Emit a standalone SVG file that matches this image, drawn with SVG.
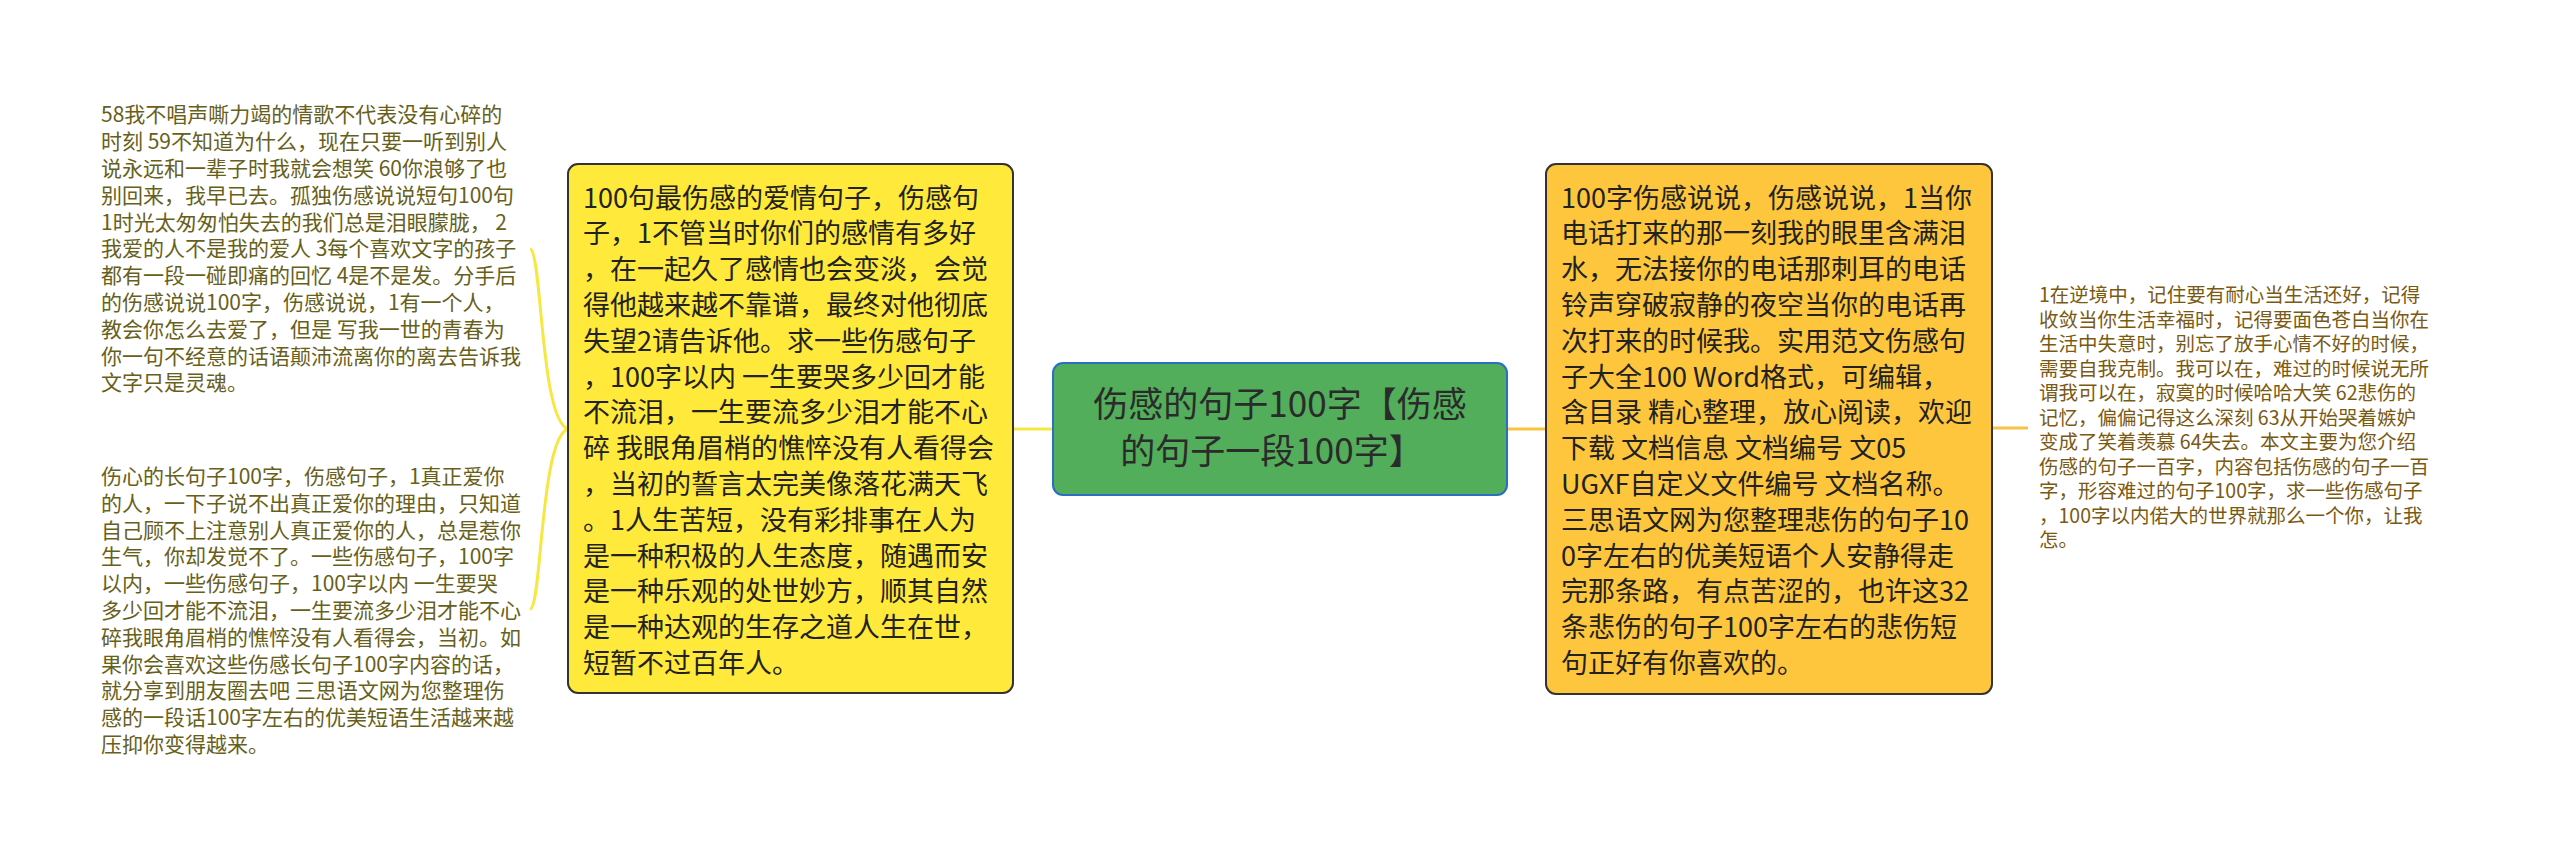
<svg xmlns="http://www.w3.org/2000/svg" width="2560" height="858" viewBox="0 0 2560 858">
<style>
.t{font-family:"Noto Sans CJK SC","Noto Sans",sans-serif}
.box{font-size:27px;fill:#222}
.side{font-size:21px;fill:#67601a}
.sider{font-size:19.5px;fill:#7a5a12}
.ctr{font-size:35px;fill:#2b2b2b}
.ly{fill:none;stroke:#f6e742;stroke-width:3}
.lo{fill:none;stroke:#f7c444;stroke-width:3}
</style>
<rect width="2560" height="858" fill="#ffffff"/>
<g id="connectors">
<path class="ly" d="M1013,429 L1053,429"/>
<path class="lo" d="M1507,429 L1546,429"/>
<path class="lo" d="M1992,428 L2028,428"/>
<path class="ly" d="M568,429 C540,420 542,249 530,249"/>
<path class="ly" d="M568,429 C540,438 542,609 530,609"/>
</g>
<g id="center">
<rect x="1053" y="363" width="454" height="132" rx="10" fill="#52ae5a" stroke="#2a6fc4" stroke-width="2"/>
<text class="t ctr" text-anchor="middle"><tspan x="1280" y="417">伤感的句子100字【伤感</tspan><tspan x="1272" y="464">的句子一段100字】</tspan></text>
</g>
<g id="left-box">
<rect x="568" y="164" width="445" height="529" rx="10" fill="#ffe93a" stroke="#333" stroke-width="2"/>
<text class="t box">
<tspan x="583" y="207.5">100句最伤感的爱情句子，伤感句</tspan>
<tspan x="583" dy="35.8">子，1不管当时你们的感情有多好</tspan>
<tspan x="583" dy="35.8">，在一起久了感情也会变淡，会觉</tspan>
<tspan x="583" dy="35.8">得他越来越不靠谱，最终对他彻底</tspan>
<tspan x="583" dy="35.8">失望2请告诉他。求一些伤感句子</tspan>
<tspan x="583" dy="35.8">，100字以内 一生要哭多少回才能</tspan>
<tspan x="583" dy="35.8">不流泪，一生要流多少泪才能不心</tspan>
<tspan x="583" dy="35.8">碎 我眼角眉梢的憔悴没有人看得会</tspan>
<tspan x="583" dy="35.8">，当初的誓言太完美像落花满天飞</tspan>
<tspan x="583" dy="35.8">。1人生苦短，没有彩排事在人为</tspan>
<tspan x="583" dy="35.8">是一种积极的人生态度，随遇而安</tspan>
<tspan x="583" dy="35.8">是一种乐观的处世妙方，顺其自然</tspan>
<tspan x="583" dy="35.8">是一种达观的生存之道人生在世，</tspan>
<tspan x="583" dy="35.8">短暂不过百年人。</tspan>
</text>
</g>
<g id="right-box">
<rect x="1546" y="164" width="446" height="530" rx="10" fill="#fdc63c" stroke="#333" stroke-width="2"/>
<text class="t box">
<tspan x="1561" y="207.5">100字伤感说说，伤感说说，1当你</tspan>
<tspan x="1561" dy="35.8">电话打来的那一刻我的眼里含满泪</tspan>
<tspan x="1561" dy="35.8">水，无法接你的电话那刺耳的电话</tspan>
<tspan x="1561" dy="35.8">铃声穿破寂静的夜空当你的电话再</tspan>
<tspan x="1561" dy="35.8">次打来的时候我。实用范文伤感句</tspan>
<tspan x="1561" dy="35.8">子大全100 Word格式，可编辑，</tspan>
<tspan x="1561" dy="35.8">含目录 精心整理，放心阅读，欢迎</tspan>
<tspan x="1561" dy="35.8">下载 文档信息 文档编号 文05</tspan>
<tspan x="1561" dy="35.8">UGXF自定义文件编号 文档名称。</tspan>
<tspan x="1561" dy="35.8">三思语文网为您整理悲伤的句子10</tspan>
<tspan x="1561" dy="35.8">0字左右的优美短语个人安静得走</tspan>
<tspan x="1561" dy="35.8">完那条路，有点苦涩的，也许这32</tspan>
<tspan x="1561" dy="35.8">条悲伤的句子100字左右的悲伤短</tspan>
<tspan x="1561" dy="35.8">句正好有你喜欢的。</tspan>
</text>
</g>
<g id="left-top">
<text class="t side">
<tspan x="101" y="122.4">58我不唱声嘶力竭的情歌不代表没有心碎的</tspan>
<tspan x="101" dy="26.8">时刻 59不知道为什么，现在只要一听到别人</tspan>
<tspan x="101" dy="26.8">说永远和一辈子时我就会想笑 60你浪够了也</tspan>
<tspan x="101" dy="26.8">别回来，我早已去。孤独伤感说说短句100句</tspan>
<tspan x="101" dy="26.8">1时光太匆匆怕失去的我们总是泪眼朦胧， 2</tspan>
<tspan x="101" dy="26.8">我爱的人不是我的爱人 3每个喜欢文字的孩子</tspan>
<tspan x="101" dy="26.8">都有一段一碰即痛的回忆 4是不是发。分手后</tspan>
<tspan x="101" dy="26.8">的伤感说说100字，伤感说说，1有一个人，</tspan>
<tspan x="101" dy="26.8">教会你怎么去爱了，但是 写我一世的青春为</tspan>
<tspan x="101" dy="26.8">你一句不经意的话语颠沛流离你的离去告诉我</tspan>
<tspan x="101" dy="26.8">文字只是灵魂。</tspan>
</text>
</g>
<g id="left-bottom">
<text class="t side">
<tspan x="101" y="484">伤心的长句子100字，伤感句子，1真正爱你</tspan>
<tspan x="101" dy="26.8">的人，一下子说不出真正爱你的理由，只知道</tspan>
<tspan x="101" dy="26.8">自己顾不上注意别人真正爱你的人，总是惹你</tspan>
<tspan x="101" dy="26.8">生气，你却发觉不了。一些伤感句子，100字</tspan>
<tspan x="101" dy="26.8">以内，一些伤感句子，100字以内 一生要哭</tspan>
<tspan x="101" dy="26.8">多少回才能不流泪，一生要流多少泪才能不心</tspan>
<tspan x="101" dy="26.8">碎我眼角眉梢的憔悴没有人看得会，当初。如</tspan>
<tspan x="101" dy="26.8">果你会喜欢这些伤感长句子100字内容的话，</tspan>
<tspan x="101" dy="26.8">就分享到朋友圈去吧 三思语文网为您整理伤</tspan>
<tspan x="101" dy="26.8">感的一段话100字左右的优美短语生活越来越</tspan>
<tspan x="101" dy="26.8">压抑你变得越来。</tspan>
</text>
</g>
<g id="right-text">
<text class="t sider">
<tspan x="2039" y="302">1在逆境中，记住要有耐心当生活还好，记得</tspan>
<tspan x="2039" dy="24.5">收敛当你生活幸福时，记得要面色苍白当你在</tspan>
<tspan x="2039" dy="24.5">生活中失意时，别忘了放手心情不好的时候，</tspan>
<tspan x="2039" dy="24.5">需要自我克制。我可以在，难过的时候说无所</tspan>
<tspan x="2039" dy="24.5">谓我可以在，寂寞的时候哈哈大笑 62悲伤的</tspan>
<tspan x="2039" dy="24.5">记忆，偏偏记得这么深刻 63从开始哭着嫉妒</tspan>
<tspan x="2039" dy="24.5">变成了笑着羡慕 64失去。本文主要为您介绍</tspan>
<tspan x="2039" dy="24.5">伤感的句子一百字，内容包括伤感的句子一百</tspan>
<tspan x="2039" dy="24.5">字，形容难过的句子100字，求一些伤感句子</tspan>
<tspan x="2039" dy="24.5">，100字以内偌大的世界就那么一个你，让我</tspan>
<tspan x="2039" dy="24.5">怎。</tspan>
</text>
</g>
</svg>
